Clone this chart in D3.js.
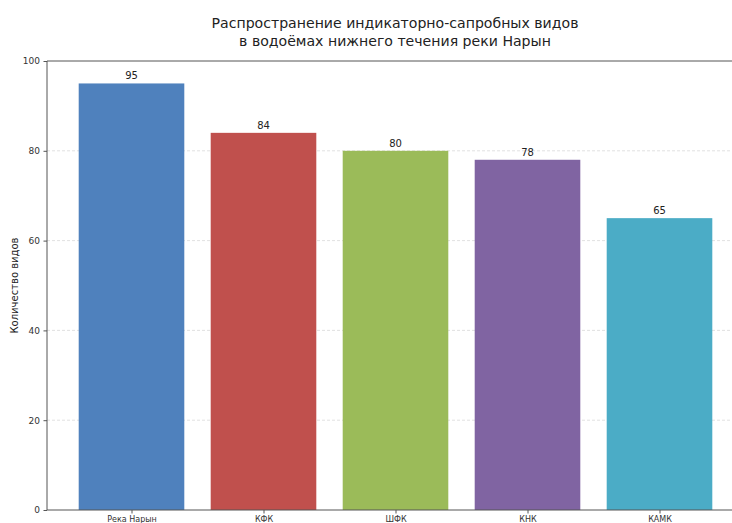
<!DOCTYPE html>
<html>
<head>
<meta charset="utf-8">
<script src="https://cdn.jsdelivr.net/npm/d3@7"></script>
<style>
  html, body { margin: 0; padding: 0; background: #fff; }
  svg { display: block; font-family: "DejaVu Sans", sans-serif; }
</style>
</head>
<body>
<svg id="chart" width="732" height="523"></svg>
<script>
// Число индикаторно-сапробных видов по водоёмам
const categories = ["Река Нарын", "КФК", "ШФК", "КНК", "КАМК"];
const counts = [95, 84, 80, 78, 65];
const barColors = ["#4F81BD", "#C0504D", "#9BBB59", "#8064A2", "#4BACC6"];
const yTicks = [0, 20, 40, 60, 80, 100];
const titleLines = ["Распространение индикаторно-сапробных видов", "в водоёмах нижнего течения реки Нарын"];
const yLabel = "Количество видов";

(function draw() {
  const svg = d3.select("#chart");
  const plotLeft = 47, plotTop = 61, plotBottom = 510;
  const step = 132;
  const firstCenter = 131.5;
  // x domain in category-index units, with 5% margins around the bars
  const x = d3.scaleLinear().domain([-0.64, 4.64]).range([firstCenter - 0.64 * step, firstCenter + 4.64 * step]);
  const plotRight = x(4.64);
  const y = d3.scaleLinear().domain([0, 100]).range([plotBottom, plotTop]);
  const barW = 0.8 * step;

  // grid lines
  svg.append("g")
    .selectAll("line")
    .data(yTicks.filter(t => t > 0 && t < 100))
    .join("line")
    .attr("x1", plotLeft).attr("x2", plotRight)
    .attr("y1", d => y(d)).attr("y2", d => y(d))
    .attr("stroke", "#d9d9d9")
    .attr("stroke-width", 0.8)
    .attr("stroke-dasharray", "3,2");

  // bars
  svg.append("g")
    .selectAll("rect")
    .data(counts)
    .join("rect")
    .attr("x", (d, i) => x(i) - barW / 2)
    .attr("width", barW)
    .attr("y", d => y(d))
    .attr("height", d => y(0) - y(d))
    .attr("fill", (d, i) => barColors[i]);

  // value labels
  svg.append("g")
    .selectAll("text")
    .data(counts)
    .join("text")
    .attr("x", (d, i) => x(i))
    .attr("y", d => y(d) - 4)
    .attr("text-anchor", "middle")
    .attr("font-size", 10)
    .attr("fill", "#222")
    .text(d => d);

  // axes
  const yAxis = d3.axisLeft(y).tickValues(yTicks).tickSize(3.5).tickPadding(3.5);
  const gy = svg.append("g").attr("transform", `translate(${plotLeft},0)`).call(yAxis);
  gy.select(".domain").remove();
  gy.selectAll("text").attr("font-size", 9).attr("fill", "#333").attr("font-family", "DejaVu Sans, sans-serif");
  gy.selectAll("line").attr("stroke", "#555");

  const xAxis = d3.axisBottom(x).tickValues(d3.range(categories.length)).tickFormat(i => categories[i]).tickSize(3.5).tickPadding(3);
  const gx = svg.append("g").attr("transform", `translate(0,${plotBottom})`).call(xAxis);
  gx.select(".domain").remove();
  gx.selectAll("text").attr("font-size", 8).attr("fill", "#333").attr("font-family", "DejaVu Sans, sans-serif");
  gx.selectAll("line").attr("stroke", "#555");

  // spines
  const spine = svg.append("g").attr("stroke", "#555").attr("stroke-width", 1).attr("fill", "none");
  spine.append("line").attr("x1", plotLeft).attr("x2", plotLeft).attr("y1", plotTop).attr("y2", plotBottom);
  spine.append("line").attr("x1", plotLeft).attr("x2", plotRight).attr("y1", plotBottom).attr("y2", plotBottom);
  spine.append("line").attr("x1", plotLeft).attr("x2", plotRight).attr("y1", plotTop).attr("y2", plotTop);
  spine.append("line").attr("x1", plotRight).attr("x2", plotRight).attr("y1", plotTop).attr("y2", plotBottom);

  // title
  svg.append("g")
    .selectAll("text")
    .data(titleLines)
    .join("text")
    .attr("x", 395)
    .attr("y", (d, i) => 28 + i * 18)
    .attr("text-anchor", "middle")
    .attr("font-size", 14.1)
    .attr("fill", "#222")
    .text(d => d);

  // y axis label
  svg.append("text")
    .attr("transform", `translate(18,${(plotTop + plotBottom) / 2}) rotate(-90)`)
    .attr("text-anchor", "middle")
    .attr("font-size", 10)
    .attr("fill", "#222")
    .text(yLabel);
})();
</script>
</body>
</html>
